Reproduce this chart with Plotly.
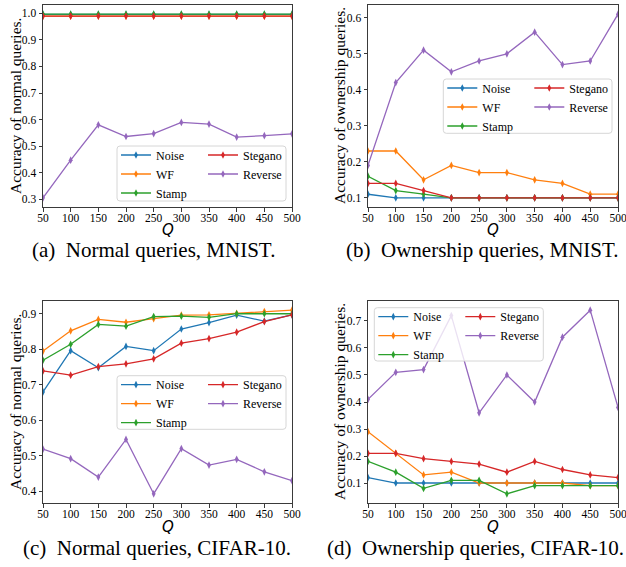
import plotly.graph_objects as go

# ---------------- data ----------------
Q = [50, 100, 150, 200, 250, 300, 350, 400, 450, 500]
x_ticks = [50, 100, 150, 200, 250, 300, 350, 400, 450, 500]

series_names = ["Noise", "WF", "Stamp", "Stegano", "Reverse"]
series_colors = ["#1f77b4", "#ff7f0e", "#2ca02c", "#d62728", "#9467bd"]

# (a) Normal queries, MNIST
a_noise = [0.996, 0.996, 0.996, 0.996, 0.996, 0.996, 0.996, 0.996, 0.996, 0.996]
a_wf = [0.990, 0.990, 0.990, 0.990, 0.990, 0.990, 0.990, 0.990, 0.990, 0.990]
a_stamp = [0.997, 0.997, 0.997, 0.997, 0.997, 0.997, 0.997, 0.997, 0.997, 0.997]
a_stegano = [0.990, 0.990, 0.990, 0.990, 0.990, 0.990, 0.990, 0.990, 0.990, 0.990]
a_reverse = [0.305, 0.447, 0.580, 0.536, 0.547, 0.589, 0.583, 0.534, 0.539, 0.546]
a_yticks = [0.3, 0.4, 0.5, 0.6, 0.7, 0.8, 0.9, 1.0]

# (b) Ownership queries, MNIST
b_noise = [0.11, 0.10, 0.10, 0.10, 0.10, 0.10, 0.10, 0.10, 0.10, 0.10]
b_wf = [0.23, 0.23, 0.15, 0.19, 0.17, 0.17, 0.15, 0.14, 0.11, 0.11]
b_stamp = [0.16, 0.12, 0.11, 0.10, 0.10, 0.10, 0.10, 0.10, 0.10, 0.10]
b_stegano = [0.14, 0.14, 0.12, 0.10, 0.10, 0.10, 0.10, 0.10, 0.10, 0.10]
b_reverse = [0.19, 0.42, 0.51, 0.45, 0.48, 0.50, 0.56, 0.47, 0.48, 0.61]
b_yticks = [0.1, 0.2, 0.3, 0.4, 0.5, 0.6]

# (c) Normal queries, CIFAR-10
c_noise = [0.680, 0.796, 0.748, 0.808, 0.796, 0.857, 0.875, 0.896, 0.879, 0.897]
c_wf = [0.795, 0.852, 0.884, 0.876, 0.886, 0.896, 0.897, 0.901, 0.906, 0.910]
c_stamp = [0.769, 0.814, 0.870, 0.865, 0.892, 0.893, 0.890, 0.900, 0.900, 0.900]
c_stegano = [0.739, 0.727, 0.751, 0.759, 0.773, 0.817, 0.830, 0.848, 0.878, 0.897]
c_reverse = [0.519, 0.492, 0.440, 0.546, 0.393, 0.520, 0.474, 0.490, 0.455, 0.430]
c_yticks = [0.4, 0.5, 0.6, 0.7, 0.8, 0.9]

# (d) Ownership queries, CIFAR-10
d_noise = [0.12, 0.10, 0.10, 0.10, 0.10, 0.10, 0.10, 0.10, 0.10, 0.10]
d_wf = [0.29, 0.21, 0.13, 0.14, 0.10, 0.10, 0.10, 0.10, 0.09, 0.09]
d_stamp = [0.18, 0.14, 0.08, 0.11, 0.11, 0.06, 0.09, 0.09, 0.09, 0.09]
d_stegano = [0.21, 0.21, 0.19, 0.18, 0.17, 0.14, 0.18, 0.15, 0.13, 0.12]
d_reverse = [0.41, 0.51, 0.52, 0.72, 0.36, 0.50, 0.40, 0.64, 0.74, 0.38]
d_yticks = [0.1, 0.2, 0.3, 0.4, 0.5, 0.6, 0.7]

x_title = "Q"
y_titles = ["Accuracy of normal queries.", "Accuracy of ownership queries.",
            "Accuracy of normal queries.", "Accuracy of ownership queries."]
captions = ["(a)\u2002Normal queries, MNIST.", "(b)\u2002Ownership queries, MNIST.",
            "(c)\u2002Normal queries, CIFAR-10.", "(d)\u2002Ownership queries, CIFAR-10."]

panels = [
    [a_noise, a_wf, a_stamp, a_stegano, a_reverse],
    [b_noise, b_wf, b_stamp, b_stegano, b_reverse],
    [c_noise, c_wf, c_stamp, c_stegano, c_reverse],
    [d_noise, d_wf, d_stamp, d_stegano, d_reverse],
]
panel_yticks = [a_yticks, b_yticks, c_yticks, d_yticks]

# ---------------- layout geometry (pixels) ----------------
W, H = 626, 567
# plot boxes: (left, right, top, bottom)
boxes = [(43, 292, 5, 207), (368, 618, 5, 207), (43, 292, 301, 503), (368, 618, 301, 503)]
# legend frame boxes: (left, top, right, bottom)
leg_boxes = [(117, 146, 286, 201), (443.3, 79, 612, 133.3), (117, 375.7, 286, 429.3), (374.3, 307.7, 543.3, 361)]
caption_pos = [(153.5, 250), (482, 250), (157, 548), (475, 548)]
xtitle_y = [230, 230, 527, 527]
ytitle_x = [15, 339, 15, 339]

SERIF = "Liberation Serif"
AX = "#3a3a3a"

fig = go.Figure()
layout = dict(
    width=W, height=H,
    margin=dict(l=0, r=0, t=0, b=0, autoexpand=False),
    paper_bgcolor="white", plot_bgcolor="white",
    showlegend=True,
    shapes=[], annotations=[],
)

def fx(px):
    return px / W

def fy(py):
    return 1 - py / H

for p in range(4):
    xa = "x" if p == 0 else f"x{p+1}"
    ya = "y" if p == 0 else f"y{p+1}"
    xkey = "xaxis" if p == 0 else f"xaxis{p+1}"
    ykey = "yaxis" if p == 0 else f"yaxis{p+1}"
    leg1 = f"legend{2*p+1}" if p > 0 else "legend"
    leg2 = f"legend{2*p+2}"
    vals = panels[p]
    for i, name in enumerate(series_names):
        fig.add_trace(go.Scatter(
            x=Q, y=vals[i], name=name, mode="lines+markers",
            line=dict(color=series_colors[i], width=1.3),
            marker=dict(symbol="diamond-tall", size=5.5, color=series_colors[i], line=dict(width=0)),
            xaxis=xa, yaxis=ya,
            legend=leg1 if i < 3 else leg2,
            hoverinfo="skip",
        ))
    allv = [v for s in vals for v in s]
    lo, hi = min(allv), max(allv)
    pad = 0.05 * (hi - lo)
    l, r, t, b = boxes[p]
    axcommon = dict(
        showline=True, mirror=True, linecolor=AX, linewidth=1,
        ticks="outside", ticklen=3.5, tickwidth=0.8, tickcolor=AX,
        showgrid=False, zeroline=False,
        tickfont=dict(family=SERIF, size=11.5, color="black"),
        automargin=False, ticklabeloverflow="allow",
    )
    layout[xkey] = dict(
        axcommon, domain=[fx(l), fx(r)], anchor=ya, range=[Q[0], Q[-1]],
        tickmode="array", tickvals=x_ticks, ticktext=[str(v) for v in x_ticks],
        ticklabelstandoff=-3,
    )
    layout[ykey] = dict(
        axcommon, domain=[fy(b), fy(t)], anchor=xa, range=[lo - pad, hi + pad],
        tickmode="array", tickvals=panel_yticks[p], ticktext=[f"{v:.1f}" for v in panel_yticks[p]],
    )
    # axis titles
    layout["annotations"].append(dict(
        text=x_title, x=fx((l + r) / 2), y=fy(xtitle_y[p]), xref="paper", yref="paper",
        xanchor="center", yanchor="middle", showarrow=False,
        font=dict(family="DejaVu Sans", size=15, style="italic", color="black"),
    ))
    layout["annotations"].append(dict(
        text=y_titles[p], x=fx(ytitle_x[p]), y=fy((t + b) / 2), xref="paper", yref="paper",
        xanchor="center", yanchor="middle", showarrow=False, textangle=-90,
        font=dict(family=SERIF, size=15.5, color="black"),
    ))
    bx0, by0, bx1, by1 = leg_boxes[p]
    legcommon = dict(
        xref="paper", yref="paper", xanchor="left", yanchor="top",
        bgcolor="rgba(0,0,0,0)", borderwidth=0, tracegroupgap=0,
        font=dict(family=SERIF, size=12, color="black"), orientation="v",
    )
    layout[leg1] = dict(legcommon, x=fx(bx0 - 1), y=fy(by0 - 5.5))
    layout[leg2] = dict(legcommon, x=fx(bx0 + 86), y=fy(by0 - 5.5))
    # rounded legend frame
    rx, ry = 3 / W, 3 / H
    X0, X1, Y0, Y1 = fx(bx0), fx(bx1), fy(by1), fy(by0)
    path = (f"M{X0+rx},{Y1} L{X1-rx},{Y1} Q{X1},{Y1} {X1},{Y1-ry} "
            f"L{X1},{Y0+ry} Q{X1},{Y0} {X1-rx},{Y0} L{X0+rx},{Y0} "
            f"Q{X0},{Y0} {X0},{Y0+ry} L{X0},{Y1-ry} Q{X0},{Y1} {X0+rx},{Y1} Z")
    layout["shapes"].append(dict(
        type="path", path=path, xref="paper", yref="paper", layer="above",
        line=dict(color="#d6d6d6", width=1), fillcolor="rgba(255,255,255,0.8)",
    ))
    cx, cy = caption_pos[p]
    layout["annotations"].append(dict(
        text=captions[p], x=fx(cx), y=fy(cy), xref="paper", yref="paper",
        xanchor="center", yanchor="middle", showarrow=False,
        font=dict(family=SERIF, size=21, color="black"),
    ))

fig.update_layout(**layout)
fig.write_html(
    "out.html",
    config=dict(displayModeBar=False),
    post_script="document.body.style.margin='0';document.body.style.padding='0';document.body.style.overflow='hidden';",
)
